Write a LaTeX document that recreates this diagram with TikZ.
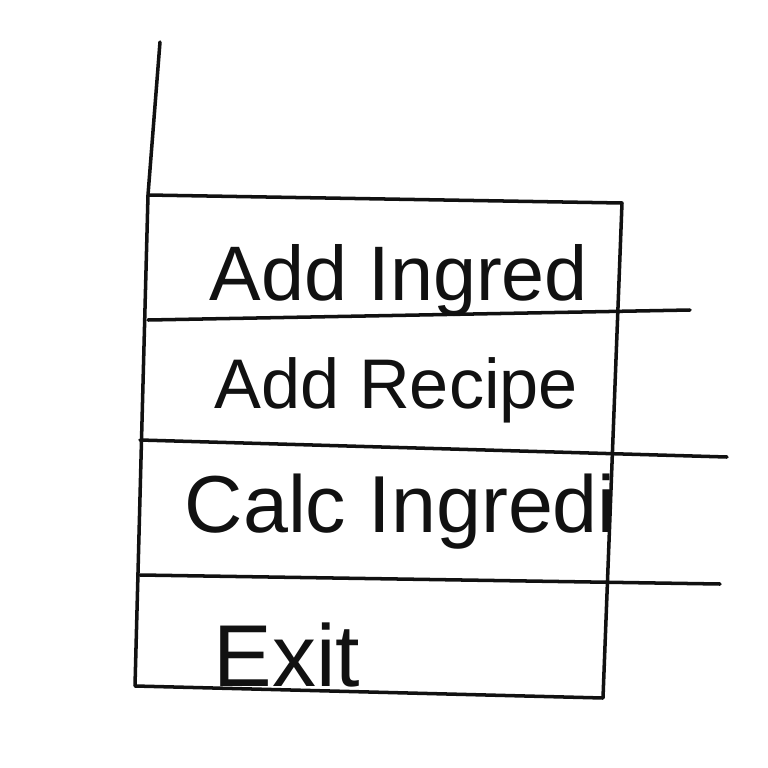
\documentclass[tikz,border=0pt]{standalone}
\usepackage{fontspec}
\setmainfont{Liberation Sans}
\definecolor{InkBlack}{RGB}{17,17,17}
\usetikzlibrary{positioning}

\begin{document}
\begin{tikzpicture}[x=0.02cm, y=-0.02cm, line width=2pt, draw=InkBlack,
	line cap=round, line join=round,
	item/.style={anchor=base west, inner sep=0pt, text=InkBlack,
		font=\fontsize{44}{50}\selectfont}]
	\useasboundingbox (0,0) rectangle (768,768);
	% outline of the menu
	\coordinate (top) at (160,42);
	\coordinate (tl) at (148,195);
	\coordinate (tr) at (622,203);
	\coordinate (br) at (603,698);
	\coordinate (bl) at (135,686);
	\draw (top) -- (tl) -- (bl) -- (br) -- (tr) -- (tl);
	% dividers
	\draw (148,320) -- (690,310);
	\draw (140,440) -- (727,457);
	\draw (140,575) -- (720,584);
	% entries
	\node[item] (ingred) at (208,300) {Add Ingred};
	\node[item, font=\fontsize{40}{46}\selectfont] (recipe) at (213,408) {Add Recipe};
	\node[item, font=\fontsize{46}{52}\selectfont] (calc) at (183,532) {Calc Ingredi};
	\node[item, font=\fontsize{50}{56}\selectfont] (exit) at (212,686) {Exit};
\end{tikzpicture}
\end{document}
